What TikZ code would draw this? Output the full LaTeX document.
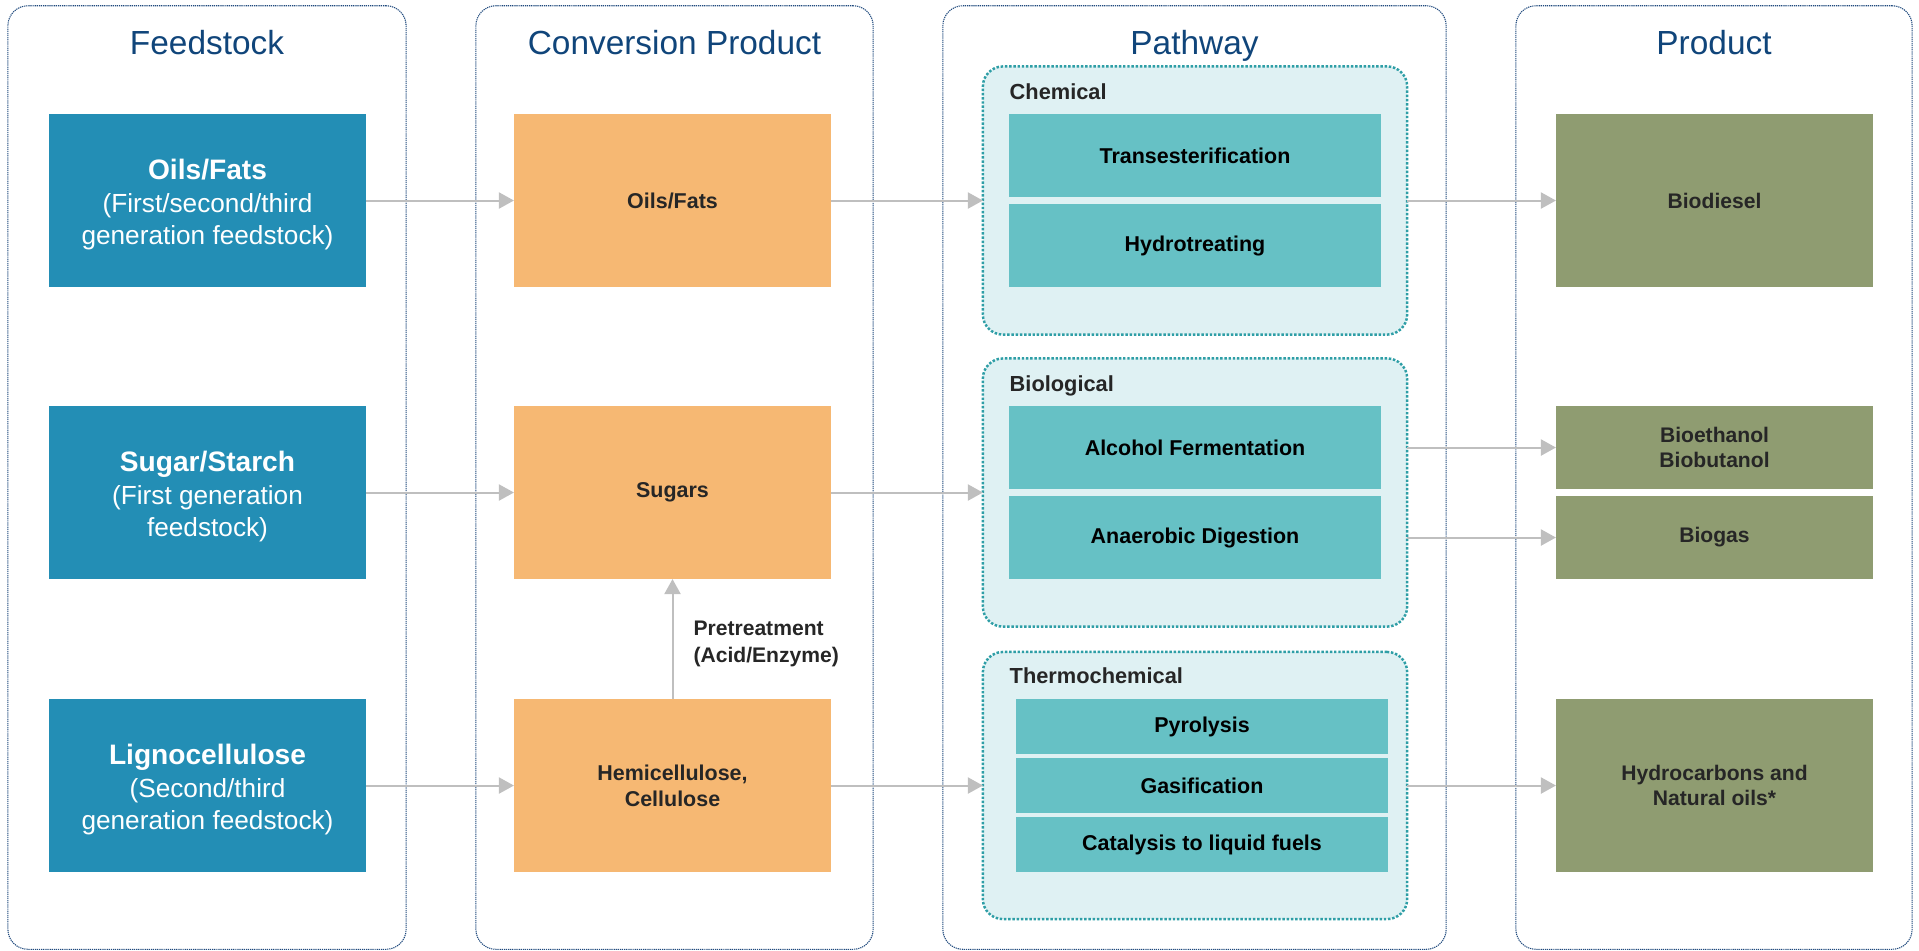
\documentclass[tikz,border=0pt]{standalone}
\usepackage{fontspec}
\setmainfont{Liberation Sans}
\usetikzlibrary{arrows.meta}
\definecolor{feedblue}{RGB}{35,142,181}
\definecolor{convorange}{RGB}{246,184,115}
\definecolor{pathteal}{RGB}{102,193,197}
\definecolor{groupfill}{RGB}{223,241,243}
\definecolor{groupline}{RGB}{46,158,166}
\definecolor{prodgreen}{RGB}{143,156,113}
\definecolor{arrowgray}{RGB}{191,191,191}
\definecolor{panelline}{RGB}{31,73,125}
\definecolor{titleblue}{RGB}{16,69,122}
\definecolor{boxtext}{RGB}{38,38,38}
\newcommand{\feedhead}[1]{{\fontsize{8}{9}\selectfont\bfseries\rule{0pt}{8.2pt}#1}}
\begin{document}
\begin{tikzpicture}[x=0.01cm,y=-0.01cm,
    panel/.style={draw=panelline,line width=0.3pt,dash pattern=on 0.35pt off 0.25pt,rounded corners=0.2cm,minimum height=9.43cm},
    coltitle/.style={anchor=base,text=titleblue,font=\fontsize{9.5}{11}\selectfont},
    feedbox/.style={fill=feedblue,text=white,minimum width=3.17cm,minimum height=1.73cm,outer sep=0pt,align=center,font=\fontsize{7.45}{9.3}\selectfont},
    convbox/.style={fill=convorange,text=boxtext,minimum width=3.17cm,minimum height=1.73cm,outer sep=0pt,align=center,font=\fontsize{6.1}{7.4}\selectfont\bfseries},
    group/.style={fill=groupfill,draw=groupline,line width=0.7pt,dash pattern=on 0.7pt off 0.5pt,rounded corners=0.2cm,minimum width=4.24cm,minimum height=2.68cm,outer sep=0pt},
    grouplabel/.style={anchor=base west,inner sep=0pt,text=boxtext,font=\fontsize{6.2}{7.4}\selectfont\bfseries},
    pathbox/.style={fill=pathteal,minimum width=3.72cm,outer sep=0pt,font=\fontsize{6.1}{7.4}\selectfont\bfseries},
    prodbox/.style={fill=prodgreen,text=boxtext,minimum width=3.17cm,outer sep=0pt,align=center,font=\fontsize{6}{7.2}\selectfont\bfseries},
    arr/.style={draw=arrowgray,line width=0.57pt,-{Triangle[length=4.3pt,width=4.6pt]}}]
    \useasboundingbox (0,0) rectangle (1919,950);
    \node[panel,minimum width=3.98cm] (pfeed) at (207,477.5) {};
    \node[panel,minimum width=3.97cm] (pconv) at (674.5,477.5) {};
    \node[panel,minimum width=5.03cm] (ppath) at (1194.5,477.5) {};
    \node[panel,minimum width=3.96cm] (pprod) at (1714,477.5) {};
    \node[coltitle] (tfeed) at (207,54) {Feedstock};
    \node[coltitle] (tconv) at (674.5,54) {Conversion Product};
    \node[coltitle] (tpath) at (1194.5,54) {Pathway};
    \node[coltitle] (tprod) at (1714,54) {Product};

    \node[feedbox] (oils) at (207.5,200.5) {\feedhead{Oils/Fats}\\(First/second/third\\generation feedstock)};
    \node[feedbox] (sugar) at (207.5,492.5) {\feedhead{Sugar/Starch}\\(First generation\\feedstock)};
    \node[feedbox] (ligno) at (207.5,785.5) {\feedhead{Lignocellulose}\\(Second/third\\generation feedstock)};

    \node[convbox] (coils) at (672.5,200.5) {Oils/Fats};
    \node[convbox] (csugars) at (672.5,492.5) {Sugars};
    \node[convbox] (chemi) at (672.5,785.5) {Hemicellulose,\\Cellulose};

    \node[group] (chem) at (1195,200.5) {};
    \node[group] (bio) at (1195,492.5) {};
    \node[group,minimum height=2.67cm] (thermo) at (1195,785.5) {};
    \node[grouplabel] (lchem) at (1009,99) {Chemical};
    \node[grouplabel] (lbio) at (1009,391) {Biological};
    \node[grouplabel] (lthermo) at (1009,683) {Thermochemical};
    \node[pathbox,minimum height=0.83cm] (trans) at (1195,155.5) {Transesterification};
    \node[pathbox,minimum height=0.83cm] (hydro) at (1195,245.5) {Hydrotreating};
    \node[pathbox,minimum height=0.83cm] (alcohol) at (1195,447.5) {Alcohol Fermentation};
    \node[pathbox,minimum height=0.83cm] (anaer) at (1195,537.5) {Anaerobic Digestion};
    \node[pathbox,minimum height=0.55cm] (pyro) at (1202,726.5) {Pyrolysis};
    \node[pathbox,minimum height=0.55cm] (gasif) at (1202,785.5) {Gasification};
    \node[pathbox,minimum height=0.55cm] (catal) at (1202,844.5) {Catalysis to liquid fuels};

    \node[prodbox,minimum height=1.73cm] (diesel) at (1714.5,200.5) {Biodiesel};
    \node[prodbox,minimum height=0.83cm] (ethanol) at (1714.5,447.5) {Bioethanol\\Biobutanol};
    \node[prodbox,minimum height=0.83cm] (biogas) at (1714.5,537.5) {Biogas};
    \node[prodbox,minimum height=1.73cm] (hcarb) at (1714.5,785.5) {Hydrocarbons and\\Natural oils*};

    \draw[arr] (oils) -- (coils);
    \draw[arr] (sugar) -- (csugars);
    \draw[arr] (ligno) -- (chemi);
    \draw[arr] (coils) -- (chem);
    \draw[arr] (csugars) -- (bio);
    \draw[arr] (chemi) -- (thermo);
    \draw[arr] (chem) -- (diesel);
    \draw[arr] (ethanol.west -| bio.east) -- (ethanol.west);
    \draw[arr] (biogas.west -| bio.east) -- (biogas.west);
    \draw[arr] (thermo) -- (hcarb);
    \draw[arr] (chemi) -- node[right=0.2cm,inner sep=0pt,yshift=-0.05cm,align=left,text=boxtext,font=\fontsize{6}{7.6}\selectfont\bfseries] (pretreat) {Pretreatment\\(Acid/Enzyme)} (csugars);
\end{tikzpicture}
\end{document}
